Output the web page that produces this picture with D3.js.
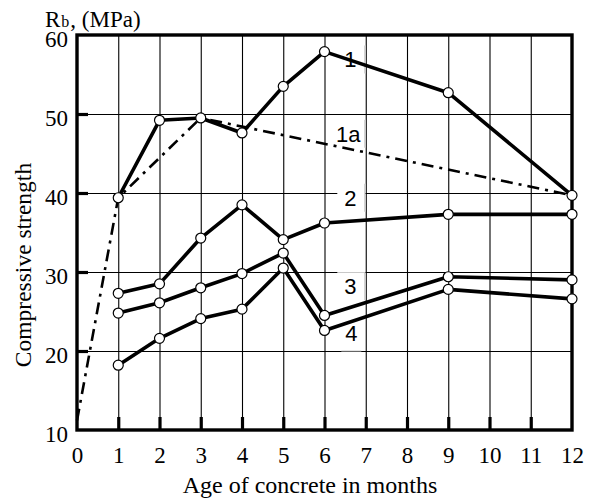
<!DOCTYPE html>
<html><head><meta charset="utf-8">
<script src="https://cdn.jsdelivr.net/npm/d3@7"></script>
<style>
body{margin:0;background:#fff}
svg{display:block}
</style></head>
<body>
<svg id="c" width="591" height="500"></svg>
<script>
const months = [1,2,3,4,5,6,9,12];
const s1 = [39.4,49.2,49.5,47.6,53.5,57.9,52.7,39.7];
const s2 = [27.3,28.5,34.3,38.5,34.1,36.2,37.3,37.3];
const s3 = [24.8,26.1,28.0,29.8,32.4,24.5,29.4,29.0];
const s4 = [18.2,21.6,24.1,25.3,30.5,22.6,27.8,26.6];
const s1aX = [0,1,3,12];
const s1aY = [11.2,39.4,49.5,39.7];
const xTicks = [0,1,2,3,4,5,6,7,8,9,10,11,12];
const yTicks = [10,20,30,40,50,60];
const labels = [
  {t:"1", x:6.65, y:56.9},
  {t:"1a", x:6.6, y:47.5},
  {t:"2", x:6.65, y:39.4},
  {t:"3", x:6.65, y:28.2},
  {t:"4", x:6.65, y:22.3}
];

const SERIF = "Liberation Serif, Tinos, DejaVu Serif, serif";
const SANS = "Liberation Sans, Arimo, Arial, sans-serif";

const svg = d3.select("#c");
const L=77, R=572, T=35, B=430;
const x = d3.scaleLinear().domain([0,12]).range([L,R]);
const y = d3.scaleLinear().domain([10,60]).range([B,T]);

// grid
svg.append("g").attr("transform",`translate(0,${B})`)
  .call(d3.axisBottom(x).tickValues(d3.range(1,12)).tickSize(-(B-T)).tickFormat(""))
  .call(g=>{g.select(".domain").remove();g.selectAll("line").attr("stroke","#000").attr("stroke-width",1.1);});
svg.append("g").attr("transform",`translate(${L},0)`)
  .call(d3.axisLeft(y).tickValues([20,30,40,50]).tickSize(-(R-L)).tickFormat(""))
  .call(g=>{g.select(".domain").remove();g.selectAll("line").attr("stroke","#000").attr("stroke-width",1.1);});

// thick ticks
svg.append("g").attr("transform",`translate(0,${B})`)
  .call(d3.axisBottom(x).tickValues(d3.range(1,12)).tickSize(-13).tickFormat(""))
  .call(g=>{g.select(".domain").remove();g.selectAll("line").attr("stroke","#000").attr("stroke-width",3.2);});
svg.append("g").attr("transform",`translate(${L},0)`)
  .call(d3.axisLeft(y).tickValues([20,30,40,50]).tickSize(-11).tickFormat(""))
  .call(g=>{g.select(".domain").remove();g.selectAll("line").attr("stroke","#000").attr("stroke-width",3.2);});

// label boxes
const lb = svg.append("g");
labels.forEach(d=>{
  const cx=x(6.65), cy=y(d.y);
  const isFour = d.t==="4";
  const bx = isFour? cx-10 : cx-14;
  const bw = isFour? 20 : 28;
  const by = cy-14, bh = 28;
  lb.append("rect").attr("x",bx).attr("y",by).attr("width",bw).attr("height",bh).attr("fill","#fff");
  if(isFour){
    lb.append("line").attr("x1",bx).attr("x2",bx+bw).attr("y1",y(20)).attr("y2",y(20)).attr("stroke","#c8c8c8").attr("stroke-width",1);
  } else {
    lb.append("line").attr("x1",bx+bw-0.5).attr("x2",bx+bw-0.5).attr("y1",by).attr("y2",by+bh).attr("stroke","#c0c0c0").attr("stroke-width",1);
  }
});

// border
svg.append("rect").attr("x",L).attr("y",T).attr("width",R-L).attr("height",B-T)
  .attr("fill","none").attr("stroke","#000").attr("stroke-width",3.4);

// 1a dash-dot
const line = d3.line().x(d=>x(d[0])).y(d=>y(d[1]));
svg.append("path").datum(s1aX.map((v,i)=>[v,s1aY[i]]))
  .attr("d",line).attr("fill","none").attr("stroke","#000").attr("stroke-width",2.6)
  .attr("stroke-dasharray","12,6,3,6");

// series
[s1,s2,s3,s4].forEach(s=>{
  const pts = months.map((m,i)=>[m,s[i]]);
  svg.append("path").datum(pts).attr("d",line).attr("fill","none")
    .attr("stroke","#000").attr("stroke-width",3.6).attr("stroke-linejoin","round");
});
[s1,s2,s3,s4].forEach(s=>{
  svg.append("g").selectAll("circle").data(months.map((m,i)=>[m,s[i]])).join("circle")
    .attr("cx",d=>x(d[0])).attr("cy",d=>y(d[1])).attr("r",5)
    .attr("fill","#fff").attr("stroke","#000").attr("stroke-width",1.2);
});

// label texts
labels.forEach(d=>{
  svg.append("text").attr("font-family",SANS).attr("x",x(d.x)+(d.t==="4"?0:-1)).attr("y",y(d.y)+8)
    .attr("text-anchor","middle").attr("font-size",22).text(d.t);
});

// tick labels
svg.append("g").attr("transform",`translate(0,${B})`)
  .call(d3.axisBottom(x).tickValues(xTicks).tickSize(0).tickPadding(0).tickFormat(d3.format("d")))
  .call(g=>{g.select(".domain").remove(); g.attr("font-family",SERIF).attr("font-size",23);
    g.selectAll("text").attr("fill","#000").attr("dy",null).attr("y",33);});
svg.append("g").attr("transform",`translate(${L},0)`)
  .call(d3.axisLeft(y).tickValues(yTicks).tickSize(0).tickPadding(9).tickFormat(d3.format("d")))
  .call(g=>{g.select(".domain").remove(); g.attr("font-family",SERIF).attr("font-size",23);
    g.selectAll("text").attr("fill","#000").attr("dy","0.52em");});

// titles
const yt = svg.append("text").attr("font-family",SERIF).attr("x",45).attr("y",27).attr("font-size",23);
yt.append("tspan").text("R");
yt.append("tspan").attr("font-size",16).attr("dx",1).text("b");
yt.append("tspan").attr("dx",1).text(", (MPa)");

svg.append("text").attr("font-family",SERIF).attr("transform","translate(31,265) rotate(-90)")
  .attr("text-anchor","middle").attr("font-size",23.5).text("Compressive strength");
svg.append("text").attr("font-family",SERIF).attr("x",310).attr("y",493)
  .attr("text-anchor","middle").attr("font-size",24).text("Age of concrete in months");
</script>
</body></html>
